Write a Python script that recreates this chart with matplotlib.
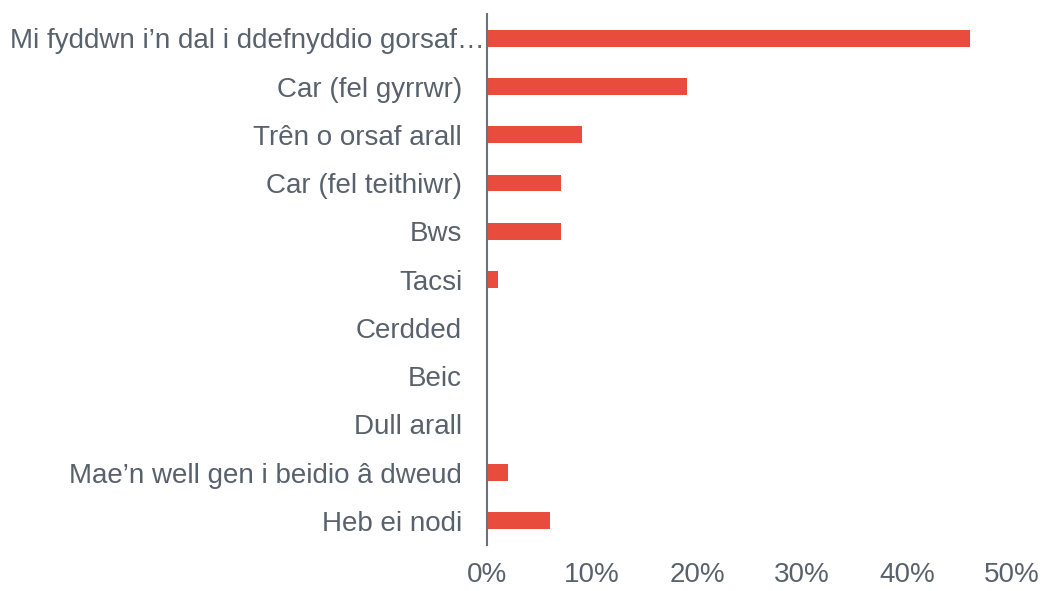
import matplotlib
matplotlib.use('Agg')
import matplotlib.pyplot as plt
import matplotlib.transforms as mtransforms
from matplotlib.ticker import FixedLocator, FuncFormatter

# categories top to bottom, values in percent
categories = [
    'Mi fyddwn i\u2019n dal i ddefnyddio gorsaf\u2026',
    'Car (fel gyrrwr)',
    'Tr\u00ean o orsaf arall',
    'Car (fel teithiwr)',
    'Bws',
    'Tacsi',
    'Cerdded',
    'Beic',
    'Dull arall',
    'Mae\u2019n well gen i beidio \u00e2 dweud',
    'Heb ei nodi',
]
values = [46, 19, 9, 7, 7, 1, 0, 0, 0, 2, 6]
x_ticks = [0, 10, 20, 30, 40, 50]

BAR_COLOR = '#E84C3D'
TEXT_COLOR = '#59626c'
AXIS_COLOR = '#6b7079'

plt.rcParams['font.family'] = ['Liberation Sans', 'DejaVu Sans']

fig = plt.figure(figsize=(10.41, 5.91), dpi=100)
ax = fig.add_axes([0.468, 0.078, 0.504, 0.898])

y_pos = list(range(len(categories)))
ax.barh(y_pos, values, height=0.35, color=BAR_COLOR)

ax.set_ylim(len(categories) - 0.5, -0.5)
ax.set_xlim(0, 50)

ax.yaxis.set_major_locator(FixedLocator(y_pos))
ax.set_yticklabels(categories, fontsize=20, color=TEXT_COLOR)
ax.tick_params(axis='y', length=0, pad=18)

ax.xaxis.set_major_locator(FixedLocator(x_ticks))
ax.xaxis.set_major_formatter(FuncFormatter(lambda v, p: f'{int(v)}%'))
ax.tick_params(axis='x', length=0, pad=12, labelsize=20, labelcolor=TEXT_COLOR)

for side in ['top', 'right', 'bottom']:
    ax.spines[side].set_visible(False)
ax.spines['left'].set_color(AXIS_COLOR)
ax.spines['left'].set_linewidth(1.5)

# first label sits closer to the axis (truncated text)
first = ax.get_yticklabels()[0]
first.set_transform(first.get_transform() +
                    mtransforms.ScaledTranslation(23 / 100, 0, fig.dpi_scale_trans))

plt.savefig('out.png', dpi=100)
